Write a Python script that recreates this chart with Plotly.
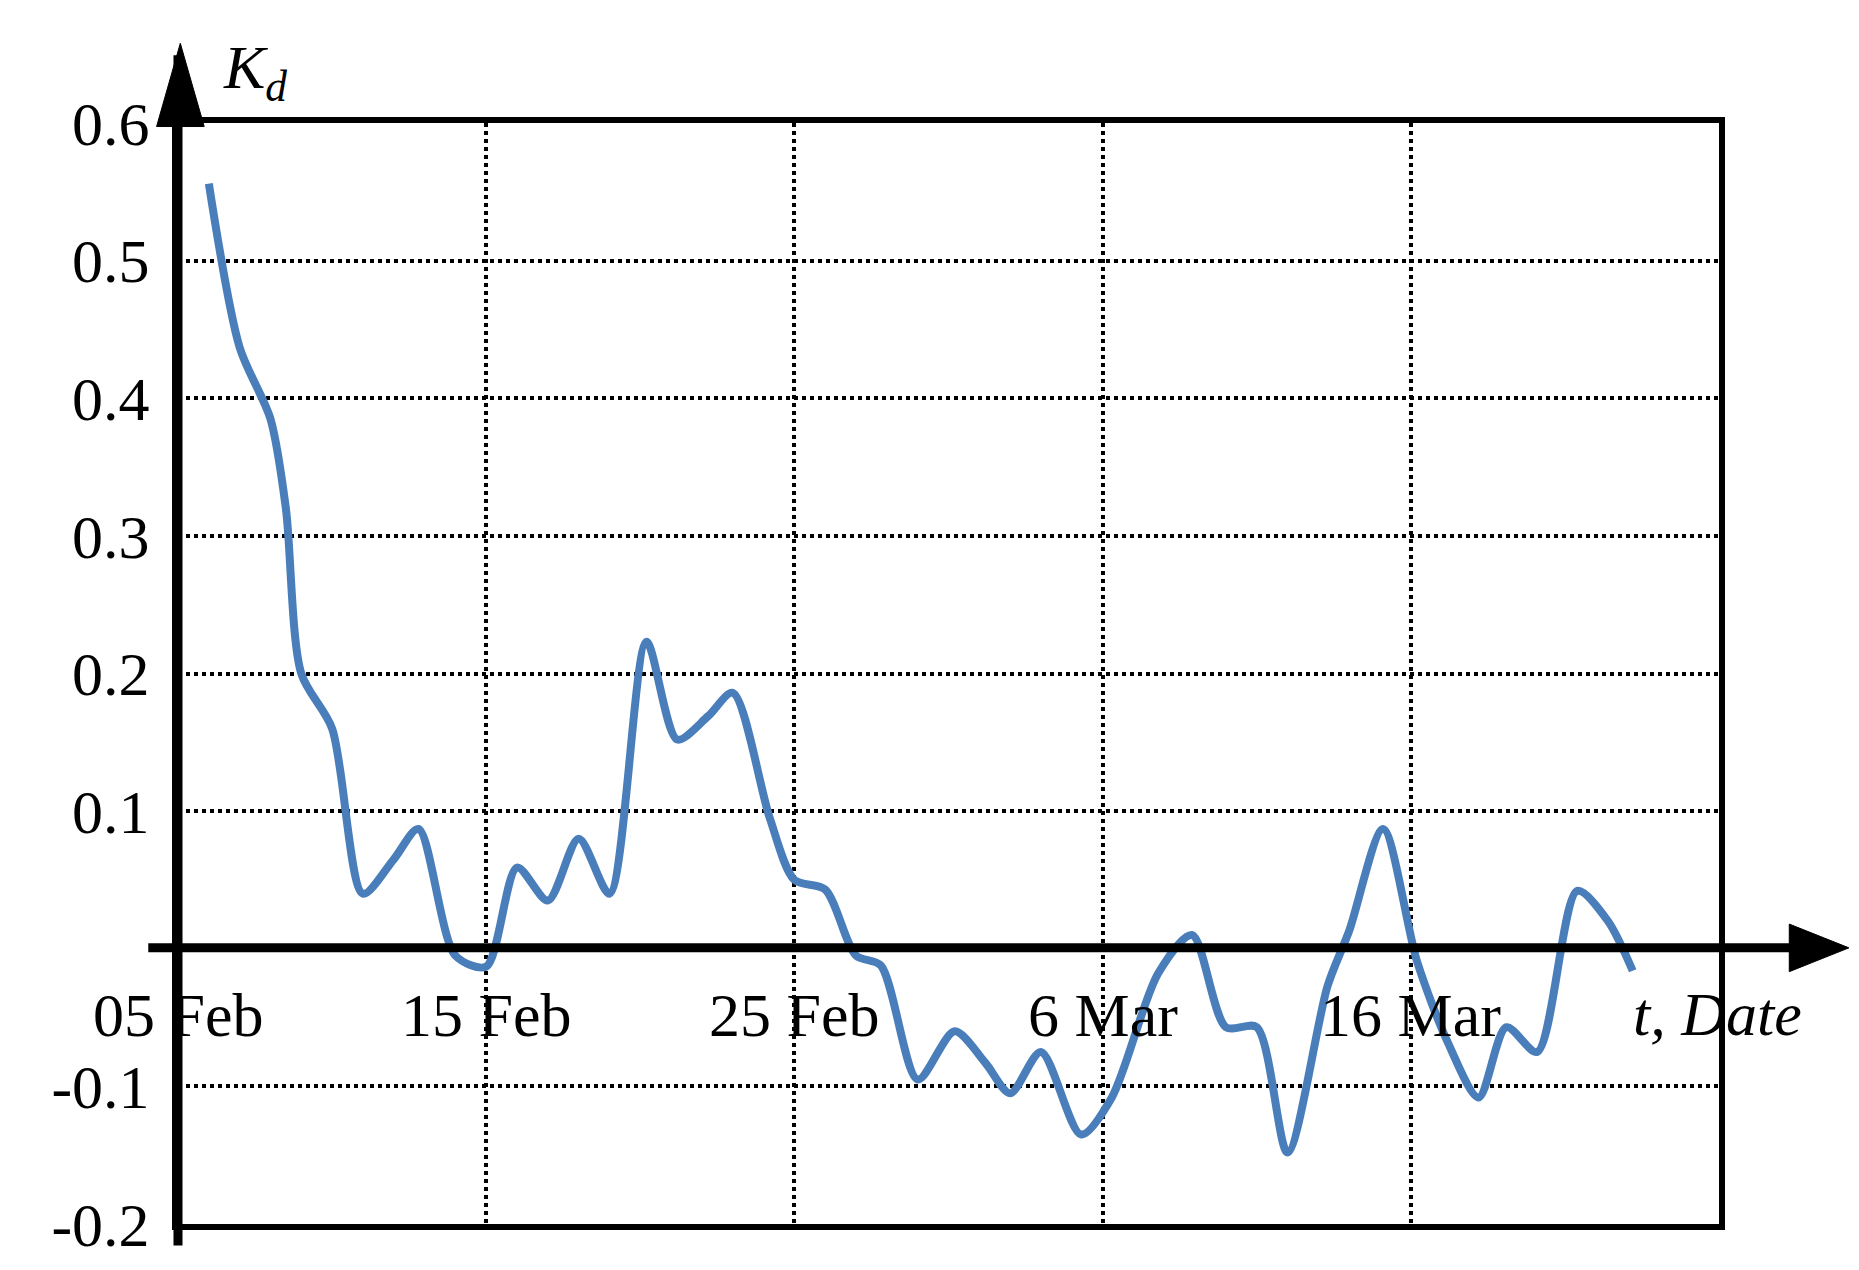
import plotly.graph_objects as go

days = [1,2,3,3.5,4,5,6,7,7.8,9,10,11,12,13,14,15.2,16.2,17.2,18,19.2,20,21,22,22.8,24,25.2,26.2,27,28,29.3,30.3,31.8,32.9,34,35,36,37.3,38,39.1,40.2,41.2,42.2,43.1,44.1,45.4,46.4,47.2]
kd = [0.556,0.437,0.385,0.32,0.2,0.16,0.04,0.065,0.087,-0.005,-0.013,0.059,0.035,0.08,0.04,0.223,0.152,0.169,0.186,0.095,0.05,0.043,-0.005,-0.012,-0.095,-0.06,-0.083,-0.105,-0.075,-0.135,-0.108,-0.018,0.01,-0.057,-0.057,-0.148,-0.027,0.013,0.087,-0.009,-0.068,-0.108,-0.057,-0.075,0.042,0.02,-0.016]
xtick_vals = [0,10,20,30,40]
xtick_text = ["05 Feb","15 Feb","25 Feb","6 Mar","16 Mar"]
ytick_vals = [-0.2,-0.1,0.1,0.2,0.3,0.4,0.5,0.6]
ytick_text = ["-0.2","-0.1","0.1","0.2","0.3","0.4","0.5","0.6"]

F = "Liberation Serif"
fig = go.Figure(go.Scatter(x=days, y=kd, mode="lines",
    line=dict(color="#4a7ebb", width=8, shape="spline", smoothing=0.8)))

fig.update_layout(width=1859, height=1270, plot_bgcolor="white", paper_bgcolor="white",
    margin=dict(l=170, r=148, t=115, b=54), showlegend=False,
    font=dict(family=F, size=62, color="black"))
fig.update_xaxes(range=[0,50], tickvals=[10,20,30,40], showticklabels=False,
    showgrid=True, gridcolor="black", griddash="dot", gridwidth=4, zeroline=False,
    showline=True, linecolor="black", linewidth=6, mirror=True)
fig.update_yaxes(range=[-0.2,0.6], tickvals=ytick_vals, ticktext=ytick_text,
    showgrid=True, gridcolor="black", griddash="dot", gridwidth=4, zeroline=False,
    showline=True, linecolor="black", linewidth=6, mirror=True, ticks="", ticklabelstandoff=10)

shapes = [
    dict(type="line", xref="paper", yref="paper", x0=-0.0193, x1=1.049, y0=0.2508, y1=0.2508, line=dict(color="black", width=9)),
    dict(type="line", xref="paper", yref="paper", x0=0, x1=0, y0=-0.0195, y1=1.0616, line=dict(color="black", width=9)),
    dict(type="path", xref="paper", yref="paper", path="M 1.0843 0.2508 L 1.0456 0.2724 L 1.0456 0.2292 Z", fillcolor="black", line=dict(color="black", width=1)),
    dict(type="path", xref="paper", yref="paper", path="M 0.0015 1.0724 L -0.0139 0.9968 L 0.017 0.9968 Z", fillcolor="black", line=dict(color="black", width=1)),
]
fig.update_layout(shapes=shapes)
ann = []
for v, t in zip(xtick_vals, xtick_text):
    ann.append(dict(x=v, y=0, xref="x", yref="y", text=t, showarrow=False, yshift=-66, yanchor="middle"))
ann.append(dict(x=0.943, y=0.2508, xref="paper", yref="paper", text="<i>t, Date</i>", showarrow=False,
                xanchor="left", yshift=-66, yanchor="middle"))
ann.append(dict(x=0.028, y=1.047, xref="paper", yref="paper", text="<i>K<sub>d</sub></i>", showarrow=False,
                xanchor="left", yanchor="middle"))
fig.update_layout(annotations=ann)
fig.write_html("out.html")
